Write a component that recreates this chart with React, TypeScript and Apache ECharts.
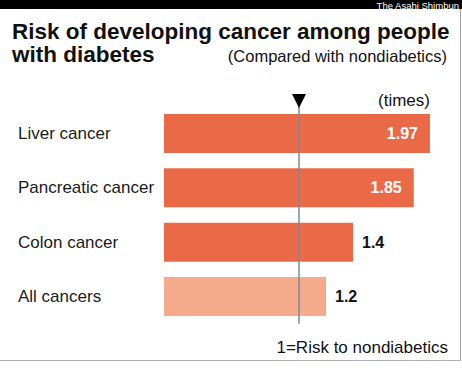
import React, { useEffect, useRef } from "react";
import * as echarts from "echarts";

const categories = ["Liver cancer", "Pancreatic cancer", "Colon cancer", "All cancers"];
const values = [1.97, 1.85, 1.4, 1.2];
const barColors = ["#EA6A47", "#EA6A47", "#EA6A47", "#F5AA8C"];
const labelInside = [true, true, false, false];
const referenceValue = 1;

const FONT = "'Liberation Sans', Arial, Helvetica, sans-serif";

export default function App() {
  const ref = useRef<HTMLDivElement>(null);
  useEffect(() => {
    if (!ref.current) return;
    const chart = echarts.init(ref.current, null, { renderer: "svg" });
    const data = values.map((v, i) => ({
      value: v,
      itemStyle: { color: barColors[i] },
      label: labelInside[i]
        ? { position: "insideRight", distance: 12, color: "#ffffff" }
        : { position: "right", distance: 9, color: "#111111" },
    }));
    chart.setOption({
      animation: false,
      backgroundColor: "#ffffff",
      textStyle: { fontFamily: FONT },
      grid: { left: 164, right: 28, top: 106.25, bottom: 44.25, containLabel: false },
      xAxis: { type: "value", min: 0, max: 2, show: false },
      yAxis: {
        type: "category",
        data: categories,
        inverse: true,
        axisLine: { show: false },
        axisTick: { show: false },
        splitLine: { show: false },
        axisLabel: {
          align: "left",
          margin: 146,
          fontSize: 17,
          color: "#1a1a1a",
          fontFamily: FONT,
        },
      },
      series: [
        {
          type: "bar",
          data,
          barWidth: 39,
          label: {
            show: true,
            fontSize: 16,
            fontWeight: "bold",
            fontFamily: FONT,
            formatter: (p: any) => String(p.value),
          },
          markLine: {
            silent: true,
            symbol: "none",
            label: { show: false },
            lineStyle: { color: "#7d8a98", width: 1.5, type: "solid" },
            data: [{ xAxis: referenceValue }],
            z: 10,
          },
        },
      ],
    });
    const px = chart.convertToPixel({ xAxisIndex: 0 }, referenceValue) as number;
    chart.setOption({
      graphic: [
        { type: "rect", shape: { x: 0, y: 0, width: 462, height: 9 }, style: { fill: "#000" } },
        {
          type: "text",
          x: 459,
          y: 0,
          style: { text: "The Asahi Shimbun", font: `9.5px ${FONT}`, fill: "#fff", textAlign: "right", textVerticalAlign: "top" },
        },
        { type: "line", shape: { x1: 460.5, y1: 9, x2: 460.5, y2: 361 }, style: { stroke: "#9a9a9a", lineWidth: 1 } },
        { type: "line", shape: { x1: 0, y1: 360.5, x2: 461, y2: 360.5 }, style: { stroke: "#b0b0b0", lineWidth: 1 } },
        {
          type: "text",
          x: 12,
          y: 31,
          style: { text: "Risk of developing cancer among people", font: `bold 22.5px ${FONT}`, fill: "#111", textAlign: "left", textVerticalAlign: "middle" },
        },
        {
          type: "text",
          x: 12,
          y: 54.5,
          style: { text: "with diabetes", font: `bold 22.5px ${FONT}`, fill: "#111", textAlign: "left", textVerticalAlign: "middle" },
        },
        {
          type: "text",
          x: 447,
          y: 56,
          style: { text: "(Compared with nondiabetics)", font: `16.5px ${FONT}`, fill: "#111", textAlign: "right", textVerticalAlign: "middle" },
        },
        {
          type: "text",
          x: 430,
          y: 100,
          style: { text: "(times)", font: `17px ${FONT}`, fill: "#111", textAlign: "right", textVerticalAlign: "middle" },
        },
        {
          type: "text",
          x: 448,
          y: 347,
          style: { text: "1=Risk to nondiabetics", font: `17px ${FONT}`, fill: "#111", textAlign: "right", textVerticalAlign: "middle" },
        },
        {
          type: "polygon",
          shape: { points: [[px - 7, 94], [px + 7, 94], [px, 108]] },
          style: { fill: "#000" },
          z: 20,
        },
      ],
    });
    return () => chart.dispose();
  }, []);
  return <div ref={ref} style={{ position: "fixed", left: 0, top: 0, width: 462, height: 368 }} />;
}
